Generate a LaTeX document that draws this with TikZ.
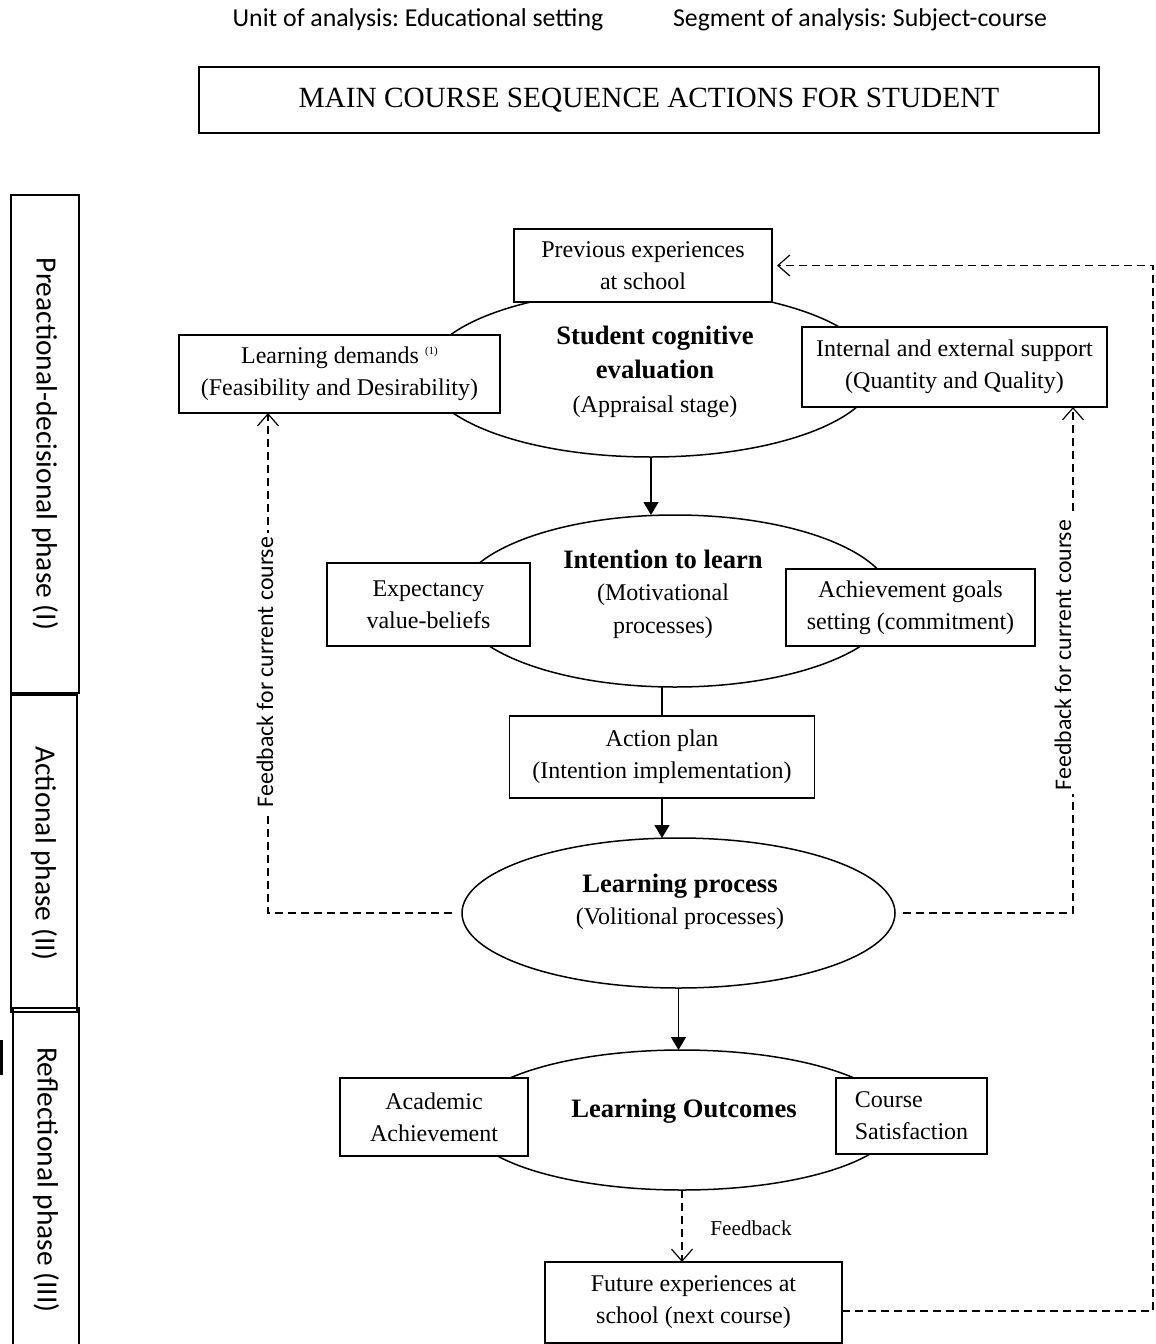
\documentclass[tikz,border=0pt]{standalone}
\usepackage{fontspec}
\setmainfont{Liberation Serif}
\newfontfamily\calib{Carlito}
\usetikzlibrary{shapes.geometric, arrows.meta, calc}
\frenchspacing
\begin{document}
\begin{tikzpicture}[x=0.5pt, y=-0.5pt,
  bx/.style={draw, line width=0.8pt, fill=white, inner sep=0pt, outer sep=0pt, align=center, font=\fontsize{12}{16}\selectfont},
  ell/.style={draw, ellipse, line width=0.75pt, inner sep=0pt, outer sep=0pt},
  etext/.style={align=center, inner sep=0pt},
  phase/.style={draw, line width=0.8pt, rotate=-90, inner sep=0pt, outer sep=0pt, font=\calib\fontsize{14.7}{17}\selectfont},
  sarrow/.style={line width=0.75pt, -{Triangle[length=6.5pt,width=7.5pt]}},
  darrow/.style={line width=0.6pt, dash pattern=on 4pt off 2.5pt, -{Straight Barb[length=6pt,width=10.5pt]}},
  fbl/.style={rotate=90, fill=white, inner sep=2pt, font=\calib\fontsize{11.9}{14}\selectfont},
  hdr/.style={font=\calib\fontsize{12.9}{15}\selectfont}
]
\useasboundingbox (0,0) rectangle (1156,1344);
\clip (0,0) rectangle (1156,1344);

% header
\node[hdr] (unit) at (418,20) {Unit of analysis: Educational setting};
\node[hdr] (seg) at (860,20) {Segment of analysis: Subject-course};
\node[bx, minimum width=450pt, minimum height=33pt, font=\fontsize{14.65}{17}\selectfont] (title) at (649,100) {MAIN COURSE SEQUENCE ACTIONS FOR STUDENT};

% phases
\node[phase, minimum width=249pt, minimum height=34pt] (ph1) at (45,444) {Preactional-decisional phase (I)};
\node[phase, minimum width=158.5pt, minimum height=33pt] (ph2) at (44,853.5) {Actional phase (II)};
\node[phase, minimum width=172pt, minimum height=33pt] (ph3) at (46,1180) {Reflectional phase (III)};
\draw[line width=1.5pt] (1.5,1040) -- (1.5,1075);

% ellipses
\node[ell, minimum width=225pt, minimum height=84pt] (e1) at (651,373) {};
\node[ell, minimum width=218pt, minimum height=86pt] (e2) at (675,601) {};
\node[ell, minimum width=216.5pt, minimum height=75pt] (lp) at (678.5,913) {};
\node[ell, minimum width=215pt, minimum height=70pt] (lo) at (682,1120) {};

\node[etext, font=\fontsize{12}{17}\selectfont] (e1t) at (655,372) {{\bfseries\fontsize{13.3}{17}\selectfont Student cognitive}\\{\bfseries\fontsize{13.3}{17}\selectfont evaluation}\\(Appraisal stage)};
\node[etext, font=\fontsize{12}{16.3}\selectfont] (e2t) at (663,594) {{\bfseries\fontsize{13.3}{16}\selectfont Intention to learn}\\(Motivational\\processes)};
\node[etext, font=\fontsize{12}{16}\selectfont] (lpt) at (680,902) {{\bfseries\fontsize{13.3}{16}\selectfont Learning process}\\(Volitional processes)};
\node[etext, font=\bfseries\fontsize{13.3}{16}\selectfont] (lot) at (684,1111) {Learning Outcomes};

% boxes
\node[bx, minimum width=129pt, minimum height=36.5pt] (prev) at (643,265.5) {Previous experiences\\at school};
\node[bx, minimum width=160.5pt, minimum height=39pt] (ld) at (339.5,374) {Learning demands \raisebox{0.8ex}{\fontsize{5.5}{6}\selectfont(1)}\\(Feasibility and Desirability)};
\node[bx, minimum width=152.5pt, minimum height=40pt] (ies) at (954.5,367) {Internal and external support\\(Quantity and Quality)};
\node[bx, minimum width=101.5pt, minimum height=41.5pt] (exp) at (428.5,604.5) {Expectancy\\value-beliefs};
\node[bx, minimum width=124.5pt, minimum height=38.5pt] (ach) at (910.5,607.5) {Achievement goals\\setting (commitment)};
\node[bx, minimum width=152.5pt, minimum height=41pt] (ap) at (662,757) {Action plan\\(Intention implementation)};
\node[bx, minimum width=94pt, minimum height=39pt] (acad) at (434,1117) {Academic\\Achievement};
\node[bx, minimum width=75.5pt, minimum height=38pt, align=left] (cs) at (911.5,1116) {Course\\Satisfaction};
\node[bx, minimum width=148.5pt, minimum height=40.5pt] (fut) at (693.5,1302.5) {Future experiences at\\school (next course)};

% solid connectors
\draw[sarrow] (e1.south) -- (e1.south |- e2.north);
\draw[line width=0.75pt] (e2.south -| ap.north) -- (ap.north);
\draw[sarrow] (ap.south) -- (ap.south |- lp.north);
\draw[sarrow] (lp.south) -- (lp.south |- lo.north);

% feedback arrows
\draw[darrow] (lo.south) -- (lo.south |- fut.north);
\node[font=\fontsize{10.6}{12}\selectfont] (fbk) at (751,1228) {Feedback};

\coordinate (fl) at (268,913);
\draw[darrow, shorten <=5pt] (lp.west) -- (fl) -- (fl |- ld.south);
\node[fbl] (fbl1) at (265,672) {Feedback for current course};

\coordinate (fr) at (1073,913);
\draw[darrow, shorten <=4pt] (lp.east) -- (fr) -- (fr |- ies.south);
\node[fbl] (fbl2) at (1063,655) {Feedback for current course};

\coordinate (lb) at (1153,1311);
\draw[darrow, shorten >=2.5pt] ($(fut.east)+(0,8.5)$) -- (lb) -- (lb |- prev.east) -- (prev.east);
\end{tikzpicture}
\end{document}
